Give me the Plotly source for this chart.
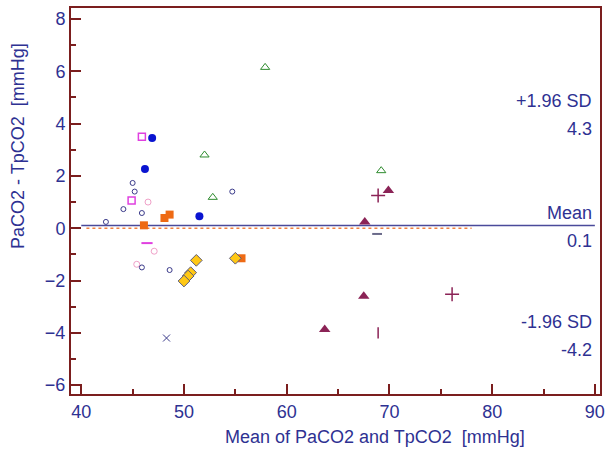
import plotly.graph_objects as go

NAVY = "#2e3192"
MAROON = "#7b1e1e"
FONT = "Liberation Sans, Arial"

# Data: mean and difference per group
blue_x = [46.9, 46.2, 51.5]
blue_y = [3.45, 2.26, 0.46]
orange_x = [48.1, 48.6, 46.1, 55.6]
orange_y = [0.39, 0.52, 0.11, -1.15]
gold_x = [51.2, 50.65, 50.4, 50.0, 55.0]
gold_y = [-1.23, -1.7, -1.83, -2.02, -1.15]
tri_x = [67.6, 69.9, 67.5, 63.7]
tri_y = [0.24, 1.44, -2.6, -3.87]
plus_x = [68.9, 76.1]
plus_y = [1.25, -2.53]
bar_x = [68.9]
bar_y = [-4.0]
green_x = [52.0, 57.9, 52.8, 69.2]
green_y = [2.8, 6.15, 1.18, 2.2]
mag_x = [45.9, 44.9]
mag_y = [3.5, 1.06]
magdash_x = [46.4]
magdash_y = [-0.57]
pink_x = [46.5, 47.1, 45.4]
pink_y = [1.0, -0.88, -1.38]
navy_x = [45.0, 45.2, 44.1, 45.9, 42.4, 54.7, 45.9, 48.6]
navy_y = [1.73, 1.4, 0.73, 0.58, 0.24, 1.4, -1.5, -1.6]
navyx_x = [48.3]
navyx_y = [-4.2]
dash_x = [68.8]
dash_y = [-0.22]

mean_diff = 0.1
upper = 4.3
lower = -4.2

fig = go.Figure()

# reference lines
fig.add_trace(go.Scatter(x=[40.5, 78], y=[0, 0], mode="lines",
                         line=dict(color="#f08040", width=1.5, dash="dot"), hoverinfo="skip"))
fig.add_trace(go.Scatter(x=[40, 90], y=[mean_diff, mean_diff], mode="lines",
                         line=dict(color="#4a4a9a", width=1.5), hoverinfo="skip"))

def pts(x, y, symbol, color, size, lw=1, lc=None):
    fig.add_trace(go.Scatter(x=x, y=y, mode="markers",
                             marker=dict(symbol=symbol, color=color, size=size,
                                         line=dict(width=lw, color=lc or color))))

pts(blue_x, blue_y, "circle", "#0a14d0", 8, 0)
pts(orange_x, orange_y, "square", "#ee6a14", 8, 0)
pts(gold_x, gold_y, "diamond", "#ffc814", 9, 1, "#5a5a7a")
pts(tri_x, tri_y, "triangle-up", "#8b2356", 10, 0)
pts(plus_x, plus_y, "cross-thin-open", "#8b2356", 10, 1.5)
pts(bar_x, bar_y, "line-ns-open", "#8b2356", 8, 1.5)
pts(green_x, green_y, "triangle-up-open", "#2e8b2e", 8, 1)
pts(mag_x, mag_y, "square-open", "#e040e0", 7, 1.5)
pts(magdash_x, magdash_y, "line-ew-open", "#e040e0", 8, 2)
pts(pink_x, pink_y, "circle-open", "#f0a0c8", 6, 1)
pts(navy_x, navy_y, "circle-open", "#3a3a8a", 5, 1)
pts(navyx_x, navyx_y, "x-thin-open", "#3a3a8a", 7, 1)
pts(dash_x, dash_y, "line-ew-open", "#6a6a8a", 7, 2)

ann = [("+1.96 SD", 4.85), (f"{upper}", 3.78), ("Mean", 0.57),
       (f"{mean_diff}", -0.5), ("-1.96 SD", -3.59), (f"{lower}", -4.66)]
for t, yv in ann:
    fig.add_annotation(x=89.9, y=yv, xref="x", yref="y", text=t, showarrow=False,
                       xanchor="right", yanchor="middle",
                       font=dict(family=FONT, size=18, color=NAVY))

# axis titles (offset from centre as in the original)
fig.add_annotation(x=0.5747, y=-0.1114, xref="paper", yref="paper",
                   text="Mean of PaCO2 and TpCO2  [mmHg]", showarrow=False,
                   xanchor="center", yanchor="middle",
                   font=dict(family=FONT, size=18, color=NAVY))
fig.add_annotation(x=-0.1002, y=0.6425, xref="paper", yref="paper",
                   text="PaCO2 - TpCO2  [mmHg]", showarrow=False, textangle=-90,
                   xanchor="center", yanchor="middle",
                   font=dict(family=FONT, size=18, color=NAVY))

axis_common = dict(showgrid=False, zeroline=False, showline=True, linecolor=MAROON,
                   linewidth=2, mirror=True, ticks="inside", tickcolor=MAROON,
                   tickwidth=2, ticklen=10, automargin=False,
                   tickfont=dict(family=FONT, size=18, color=NAVY))

fig.update_xaxes(range=[39.0, 90.5], tickvals=[40, 50, 60, 70, 80, 90],
                 minor=dict(dtick=5, tick0=40, ticks="inside", ticklen=5, tickcolor=MAROON, tickwidth=1.5),
                 **axis_common)
fig.update_yaxes(range=[-6.34, 8.42], tickvals=[-6, -4, -2, 0, 2, 4, 6, 8],
                 minor=dict(dtick=1, tick0=0, ticks="inside", ticklen=5, tickcolor=MAROON, tickwidth=1.5),
                 **axis_common)

fig.update_layout(width=606, height=452, margin=dict(l=71, r=6, t=8, b=58),
                  plot_bgcolor="white", paper_bgcolor="white", showlegend=False)

fig.write_html("out.html", config={"displayModeBar": False},
               post_script="document.body.style.margin='0';")
